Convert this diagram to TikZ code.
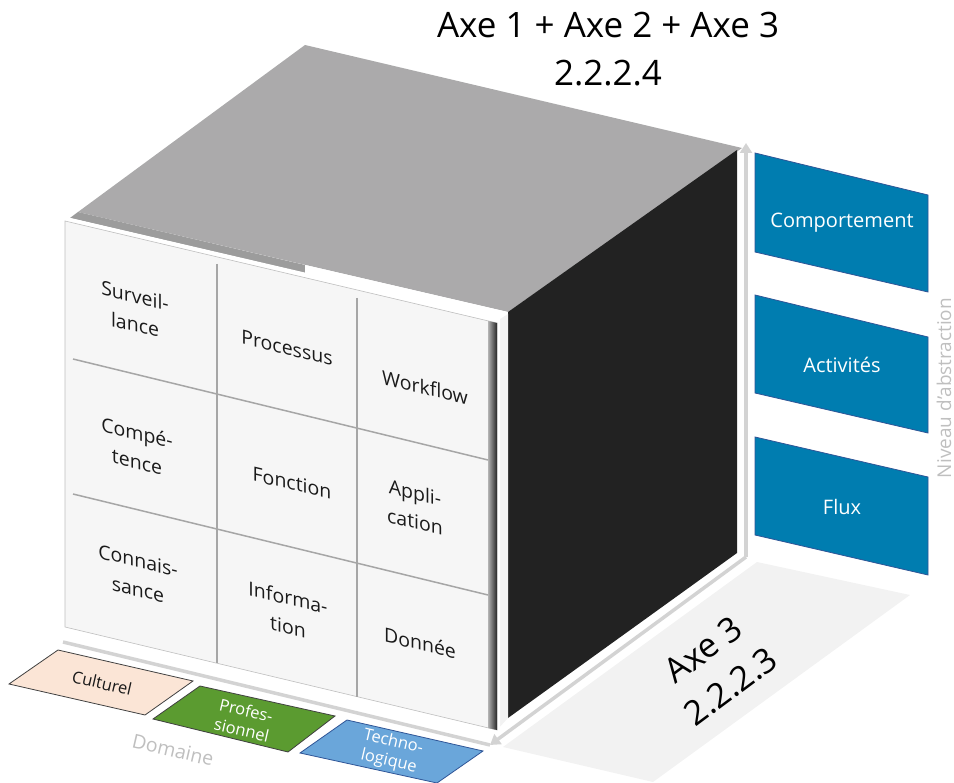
\documentclass[tikz,border=0pt]{standalone}
\usepackage{fontspec}
\setmainfont{Open Sans}
\usetikzlibrary{arrows.meta}
\definecolor{topgray}{HTML}{ABAAAB}
\definecolor{stripgray}{HTML}{9C9C9C}
\definecolor{blackface}{HTML}{222222}
\definecolor{panelcol}{HTML}{F6F6F6}
\definecolor{gridcol}{HTML}{A6A6A6}
\definecolor{axisgray}{HTML}{D3D3D3}
\definecolor{floorgray}{HTML}{F2F2F2}
\definecolor{bluebox}{HTML}{007DB0}
\definecolor{blueedge}{HTML}{2F5597}
\definecolor{beige}{HTML}{FBE5D6}
\definecolor{greenbox}{HTML}{5B9B30}
\definecolor{lightblue}{HTML}{6AA6DA}
\definecolor{labelgray}{HTML}{BFBFBF}
\definecolor{textcol}{HTML}{1A1A1A}
\begin{document}
\begin{tikzpicture}[x=1pt,y=-1pt,
  celltext/.style={font=\fontsize{19.5}{29}\selectfont, align=center, text=textcol, yslant=-0.24, inner sep=0pt},
  sidebox/.style={fill=bluebox, draw=blueedge, line width=0.8pt},
  sidetext/.style={font=\fontsize{20}{24}\selectfont, text=white, inner sep=0pt},
  floorbox/.style={draw=black!75, line width=0.8pt},
  floortext/.style={font=\fontsize{16.5}{20}\selectfont, align=center, rotate=-13, inner sep=0pt},
  axisline/.style={draw=axisgray, line width=3.5pt},
  axisarrow/.style={axisline, -{Triangle[width=12pt,length=10pt]}},
  gridline/.style={draw=gridcol, line width=1.5pt},
]
\useasboundingbox (0,0) rectangle (954,783);

% title
\node[font=\fontsize{35}{48}\selectfont, align=center, inner sep=0pt] (title) at (608,49) {Axe 1 + Axe 2 + Axe 3\\2.2.2.4};

% top face
\fill[topgray] (305,45) -- (742,148) -- (508,312) -- (78,212) -- cycle;
\fill[stripgray] (78,212) -- (305,265) -- (305,273) -- (70,218) -- cycle;
\fill[white] (305,265) -- (508,312) -- (502,320) -- (305,273) -- cycle;

% right black face
\fill[blackface] (508,312) -- (737,150) -- (737,553) -- (508,718) -- cycle;

% floor
\fill[floorgray] (757,562) -- (910,595) -- (653,782) -- (503,747) -- cycle;

% axes
\coordinate (origin) at (746,557);
\coordinate (vtop) at (746,143);
\coordinate (corner) at (490,745);
\coordinate (dstart) at (63,642);
\draw[axisline] (dstart) -- (corner);
\draw[axisarrow] (origin) -- (vtop);
\draw[axisarrow] (origin) -- (corner);

% white strip between panel and black face
\fill[black!5] (497,321) -- (508,314) -- (508,718) -- (497,730) -- cycle;

% front panel
\fill[white] (62,216) -- (500,318) -- (500,733) -- (62,630) -- cycle;
\filldraw[fill=panelcol, draw=black!25, line width=0.6pt] (65,221) -- (497,323) -- (497,730) -- (65,627) -- cycle;
\shade[left color=black!30, right color=black!85] (488,321) -- (497,323) -- (497,730) -- (488,728) -- cycle;

% grid lines
\draw[gridline] (73,359) -- (488,460);
\draw[gridline] (73,494) -- (488,595);
\draw[gridline] (217,264) -- (217,663);
\draw[gridline] (357,298) -- (357,697);

% cell texts
\node[celltext] (c11) at (135,310) {Surveil-\\lance};
\node[celltext] (c12) at (287,348) {Processus};
\node[celltext] (c13) at (425,387) {Workflow};
\node[celltext] (c21) at (137,447) {Compé-\\tence};
\node[celltext] (c22) at (292,483) {Fonction};
\node[celltext] (c23) at (415,507) {Appli-\\cation};
\node[celltext] (c31) at (138,575) {Connais-\\sance};
\node[celltext] (c32) at (288,612) {Informa-\\tion};
\node[celltext] (c33) at (420,643) {Donnée};

% right side boxes
\draw[sidebox] (755,153) -- (928,195) -- (928,292) -- (755,252) -- cycle;
\draw[sidebox] (755,295) -- (928,337) -- (928,433) -- (755,393) -- cycle;
\draw[sidebox] (755,437) -- (928,477) -- (928,575) -- (755,535) -- cycle;
\node[sidetext] (comp) at (842,223) {Comportement};
\node[sidetext] (acti) at (842,365) {Activités};
\node[sidetext] (flux) at (842,507) {Flux};
\node[font=\fontsize{19}{22}\selectfont, text=labelgray, rotate=90, inner sep=0pt] (niveau) at (944,388) {Niveau d’abstraction};

% bottom boxes
\draw[floorbox, fill=beige] (9,684) -- (58,650) -- (193,681) -- (145,715) -- cycle;
\draw[floorbox, fill=greenbox] (153,719) -- (200,686) -- (335,716) -- (288,752) -- cycle;
\draw[floorbox, fill=lightblue, draw=blueedge] (300,753) -- (347,720) -- (483,751) -- (437,783) -- cycle;
\node[floortext, text=textcol] (cult) at (102,683) {Culturel};
\node[floortext, text=white] (prof) at (244,720) {Profes-\\sionnel};
\node[floortext, text=white] (tech) at (391,752) {Techno-\\logique};
\node[font=\fontsize{19.5}{22}\selectfont, text=labelgray, rotate=-13, inner sep=0pt] (domaine) at (173,750) {Domaine};

% axe 3 label
\node[font=\fontsize{34}{46}\selectfont, align=center, rotate=36.7, inner sep=0pt] (axe3) at (717,668) {Axe 3\\2.2.2.3};
\end{tikzpicture}
\end{document}
